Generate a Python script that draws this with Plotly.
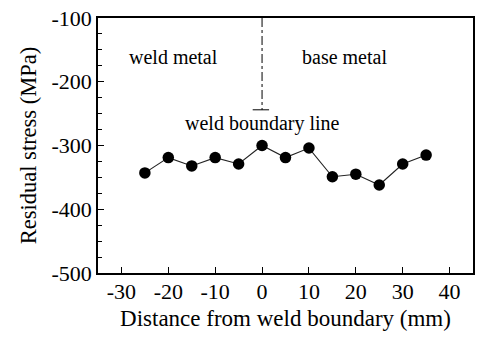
import plotly.graph_objects as go

# Residual stress measured across the weld boundary
distance_mm = [-25, -20, -15, -10, -5, 0, 5, 10, 15, 20, 25, 30, 35]
stress_mpa = [-343, -319, -332, -319, -329, -300, -319, -304, -349, -345, -362, -329, -315]

x_ticks = [-30, -20, -10, 0, 10, 20, 30, 40]
y_ticks = [-500, -400, -300, -200, -100]

# Weld boundary marker line
boundary_x = 0
boundary_top = -100
boundary_bottom = -244
boundary_cap = [-2, 1.5]

region_labels = [
    ("weld metal", -19, -161),
    ("base metal", 17.5, -161),
    ("weld boundary line", 0, -266),
]

FONT = "Liberation Serif, Times New Roman, serif"

fig = go.Figure()
fig.add_trace(go.Scatter(
    x=distance_mm, y=stress_mpa, mode="lines+markers",
    line=dict(color="#222222", width=1.1),
    marker=dict(color="black", size=11.5, symbol="circle"),
    showlegend=False,
))

fig.add_shape(type="line", x0=boundary_x, x1=boundary_x, y0=boundary_top, y1=boundary_bottom,
              xref="x", yref="y", line=dict(color="black", width=1, dash="dashdot"))
fig.add_shape(type="line", x0=boundary_cap[0], x1=boundary_cap[1], y0=boundary_bottom, y1=boundary_bottom,
              xref="x", yref="y", line=dict(color="black", width=1))

for text, x, y in region_labels:
    fig.add_annotation(x=x, y=y, text=text, showarrow=False, xref="x", yref="y",
                       font=dict(family=FONT, size=20, color="black"))

axis_common = dict(
    showgrid=False, zeroline=False, showline=True, linecolor="black", linewidth=1.5,
    mirror=True, ticks="inside", tickcolor="black", tickwidth=1.2, ticklen=6,
    tickfont=dict(family=FONT, size=22, color="black"),
)

fig.update_xaxes(range=[-35, 45], tickvals=x_ticks, ticktext=[str(v) for v in x_ticks],
                 ticklabelstandoff=-2,
                 title=dict(text="Distance from weld boundary (mm)", standoff=7,
                            font=dict(family=FONT, size=23, color="black")),
                 **axis_common)
fig.update_yaxes(range=[-500, -100], tickvals=y_ticks, ticktext=[str(v) for v in y_ticks],
                 minor=dict(dtick=25, ticks="inside", ticklen=4, tickcolor="black", tickwidth=1),
                 title=dict(text="Residual stress (MPa)", standoff=9,
                            font=dict(family=FONT, size=22.5, color="black")),
                 **axis_common)

fig.update_layout(
    width=479, height=340,
    margin=dict(l=98, r=4, t=18, b=67),
    paper_bgcolor="white", plot_bgcolor="white",
)

fig.write_html("out.html")
